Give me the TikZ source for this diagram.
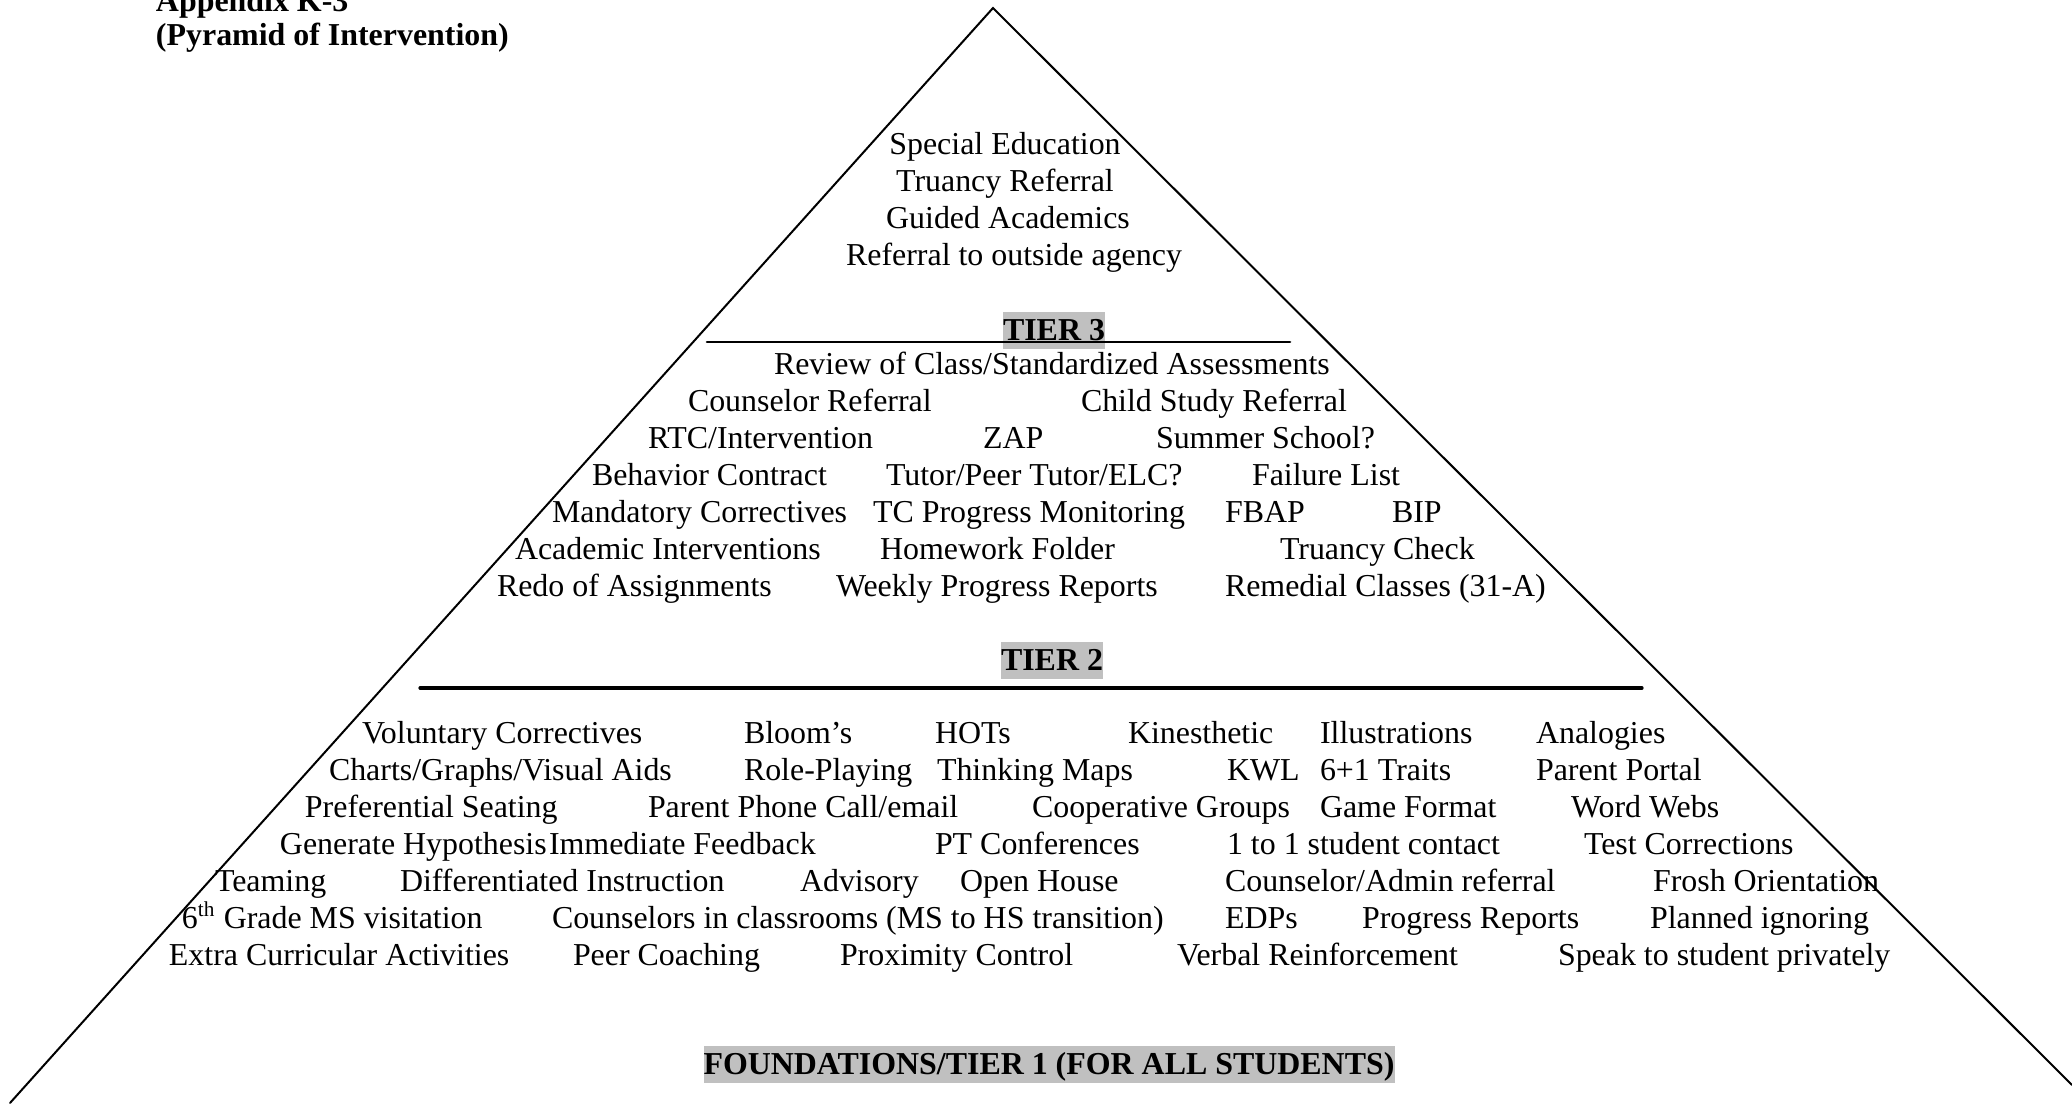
\documentclass[tikz,border=0pt]{standalone}
\usepackage{fontspec}
\setmainfont{Liberation Serif}
\definecolor{tierhl}{HTML}{C0C0C0}

\def\pyramidCoords{\coordinate (apex) at (993,8);\coordinate (baseL) at (10,1103);\coordinate (baseR) at (2072,1085);}

\begin{document}
\begin{tikzpicture}[x=0.376pt, y=-0.376pt, line cap=round, line width=0.75pt,
	listtext/.style={anchor=base west, inner sep=0pt, font=\fontsize{12}{14}\selectfont},
	toptext/.style={anchor=base, inner sep=0pt, font=\fontsize{12}{14}\selectfont},
	tierlabel/.style={anchor=base, fill=tierhl, inner sep=0pt, text height=10.5pt, text depth=3.3pt, font=\fontsize{12}{14}\selectfont\bfseries},
	titletext/.style={anchor=base west, inner sep=0pt, font=\fontsize{12}{14}\selectfont\bfseries}]
	\useasboundingbox (0,0) rectangle (2072,1110);
	\pyramidCoords
	\draw (baseL) -- (apex) -- (baseR);
	
	% title
	\node[titletext] (appx) at (155,11) {Appendix K-3};
	\node[titletext] (pyr) at (155,45) {(Pyramid of Intervention)};
	
	% top of the pyramid
	\node[toptext] (top1) at (1005,154) {Special Education};
	\node[toptext] (top2) at (1005,191) {Truancy Referral};
	\node[toptext] (top3) at (1008,228) {Guided Academics};
	\node[toptext] (top4) at (1014,265) {Referral to outside agency};
	
	% tier 3
	\coordinate (t3L) at (707,342);
	\coordinate (t3R) at (1290,342);
	\node[tierlabel] (tier3) at (1054,340) {TIER 3};
	\draw[line width=1pt] (t3L) -- (t3R);
	\node[listtext] (t3a) at (773,374) {Review of Class/Standardized Assessments};
	\node[listtext] (t3b) at (687,411) {Counselor Referral};
	\node[listtext] (t3c) at (1080,411) {Child Study Referral};
	\node[listtext] (t3d) at (647,448) {RTC/Intervention};
	\node[listtext] (t3e) at (982,448) {ZAP};
	\node[listtext] (t3f) at (1155,448) {Summer School?};
	\node[listtext] (t3g) at (591,485) {Behavior Contract};
	\node[listtext] (t3h) at (885,485) {Tutor/Peer Tutor/ELC?};
	\node[listtext] (t3i) at (1251,485) {Failure List};
	\node[listtext] (t3j) at (551,522) {Mandatory Correctives};
	\node[listtext] (t3k) at (872,522) {TC Progress Monitoring};
	\node[listtext] (t3l) at (1224,522) {FBAP};
	\node[listtext] (t3m) at (1391,522) {BIP};
	\node[listtext] (t3n) at (514,559) {Academic Interventions};
	\node[listtext] (t3o) at (879,559) {Homework Folder};
	\node[listtext] (t3p) at (1279,559) {Truancy Check};
	\node[listtext] (t3q) at (496,596) {Redo of Assignments};
	\node[listtext] (t3r) at (835,596) {Weekly Progress Reports};
	\node[listtext] (t3s) at (1224,596) {Remedial Classes (31-A)};
	
	% tier 2
	\coordinate (t2L) at (420,688);
	\coordinate (t2R) at (1642,688);
	\node[tierlabel] (tier2) at (1052,670) {TIER 2};
	\draw[line width=1.2pt] (t2L) -- (t2R);
	\node[listtext] (t1a) at (361,743) {Voluntary Correctives};
	\node[listtext] (t1b) at (743,743) {Bloom’s};
	\node[listtext] (t1c) at (934,743) {HOTs};
	\node[listtext] (t1d) at (1127,743) {Kinesthetic};
	\node[listtext] (t1e) at (1319,743) {Illustrations};
	\node[listtext] (t1f) at (1535,743) {Analogies};
	\node[listtext] (t1g) at (328,780) {Charts/Graphs/Visual Aids};
	\node[listtext] (t1h) at (743,780) {Role-Playing};
	\node[listtext] (t1i) at (936,780) {Thinking Maps};
	\node[listtext] (t1j) at (1226,780) {KWL};
	\node[listtext] (t1k) at (1319,780) {6+1 Traits};
	\node[listtext] (t1l) at (1535,780) {Parent Portal};
	\node[listtext] (t1m) at (304,817) {Preferential Seating};
	\node[listtext] (t1n) at (647,817) {Parent Phone Call/email};
	\node[listtext] (t1o) at (1031,817) {Cooperative Groups};
	\node[listtext] (t1p) at (1319,817) {Game Format};
	\node[listtext] (t1q) at (1570,817) {Word Webs};
	\node[listtext] (t1r) at (279,854) {Generate Hypothesis};
	\node[listtext] (t1s) at (548,854) {Immediate Feedback};
	\node[listtext] (t1t) at (934,854) {PT Conferences};
	\node[listtext] (t1u) at (1226,854) {1 to 1 student contact};
	\node[listtext] (t1v) at (1583,854) {Test Corrections};
	\node[listtext] (t1w) at (214,891) {Teaming};
	\node[listtext] (t1x) at (399,891) {Differentiated Instruction};
	\node[listtext] (t1y) at (799,891) {Advisory};
	\node[listtext] (t1z) at (959,891) {Open House};
	\node[listtext] (t1aa) at (1224,891) {Counselor/Admin referral};
	\node[listtext] (t1ab) at (1652,891) {Frosh Orientation};
	\node[listtext] (t1ac) at (181,928) {6\textsuperscript{th} Grade MS visitation};
	\node[listtext] (t1ad) at (551,928) {Counselors in classrooms (MS to HS transition)};
	\node[listtext] (t1ae) at (1224,928) {EDPs};
	\node[listtext] (t1af) at (1361,928) {Progress Reports};
	\node[listtext] (t1ag) at (1649,928) {Planned ignoring};
	\node[listtext] (t1ah) at (168,965) {Extra Curricular Activities};
	\node[listtext] (t1ai) at (572,965) {Peer Coaching};
	\node[listtext] (t1aj) at (839,965) {Proximity Control};
	\node[listtext] (t1ak) at (1176,965) {Verbal Reinforcement};
	\node[listtext] (t1al) at (1557,965) {Speak to student privately};
	
	% foundations
	\node[tierlabel] (tier1) at (1049,1074) {FOUNDATIONS/TIER 1 (FOR ALL STUDENTS)};
\end{tikzpicture}
\end{document}
